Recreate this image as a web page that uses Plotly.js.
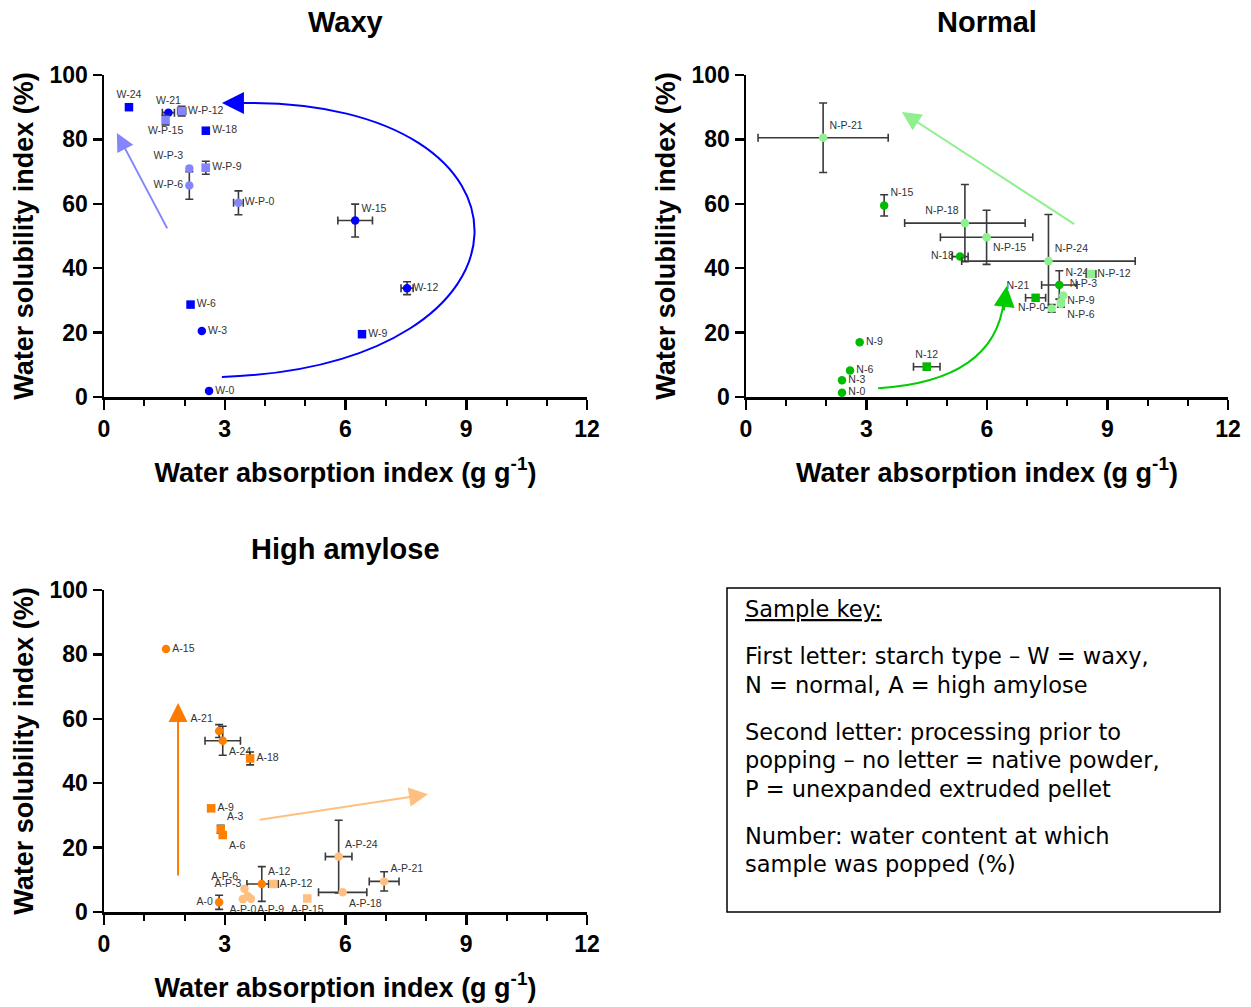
<!DOCTYPE html>
<html><head><meta charset="utf-8">
<script src="https://cdn.plot.ly/plotly-3.0.1.min.js"></script>
<style>html,body{margin:0;padding:0;background:#fff}</style>
</head><body><div id="chart" style="width:1251px;height:1007px"></div>
<script>
// ---------- DATA ----------
// Waxy, native powder
const waxyLabels = ['W-0','W-3','W-6','W-9','W-12','W-15','W-18','W-21','W-24'];
const waxyWAI    = [2.61, 2.43, 2.15, 6.41, 7.53, 6.24, 2.53, 1.60, 0.62];
const waxyWSI    = [1.9, 20.5, 28.7, 19.5, 33.8, 54.8, 82.7, 88.3, 90.0];
const waxyWAIerr = [null,null,null,null,0.15,0.43,null,0.15,null];
const waxyWSIerr = [null,null,null,null,2.0,5.1,null,null,null];
// Waxy, extruded pellet
const waxyPLabels = ['W-P-0','W-P-3','W-P-6','W-P-9','W-P-12','W-P-15'];
const waxyPWAI    = [3.34, 2.12, 2.12, 2.53, 1.93, 1.53];
const waxyPWSI    = [60.3, 71.0, 65.7, 71.2, 88.8, 86.0];
const waxyPWAIerr = [0.12,null,null,0.08,0.1,null];
const waxyPWSIerr = [3.7,null,4.3,2.0,1.5,1.5];
// Normal, native powder
const normLabels = ['N-0','N-3','N-6','N-9','N-12','N-15','N-18','N-21','N-24'];
const normWAI    = [2.39, 2.39, 2.59, 2.83, 4.50, 3.44, 5.33, 7.21, 7.80];
const normWSI    = [1.3, 5.2, 8.2, 17.0, 9.4, 59.5, 43.6, 30.8, 34.8];
const normWAIerr = [null,null,null,null,0.33,null,0.2,0.25,0.44];
const normWSIerr = [null,null,null,null,1.0,3.3,null,null,4.4];
// Normal, extruded pellet
const normPLabels = ['N-P-0','N-P-3','N-P-6','N-P-9','N-P-12','N-P-15','N-P-18','N-P-21','N-P-24'];
const normPWAI    = [7.61, 7.90, 7.84, 7.84, 8.59, 5.99, 5.45, 1.92, 7.53];
const normPWSI    = [27.5, 31.5, 28.9, 29.6, 38.2, 49.6, 54.0, 80.5, 42.2];
const normPWAIerr = [null,null,null,null,0.12,1.15,1.5,1.62,2.16];
const normPWSIerr = [1.2,null,1.0,null,null,8.4,12.0,10.8,14.5];
// High amylose, native powder
const amyLabels = ['A-0','A-3','A-6','A-9','A-12','A-15','A-18','A-21','A-24'];
const amyWAI    = [2.86, 2.90, 2.95, 2.66, 3.92, 1.54, 3.63, 2.86, 2.95];
const amyWSI    = [3.0, 25.7, 23.9, 32.2, 8.7, 81.7, 47.7, 56.2, 53.2];
const amyWAIerr = [null,null,null,0.08,0.37,null,null,null,0.44];
const amyWSIerr = [2.2,1.2,null,null,5.4,null,2.0,2.0,4.5];
// High amylose, extruded pellet
const amyPLabels = ['A-P-0','A-P-3','A-P-6','A-P-9','A-P-12','A-P-15','A-P-18','A-P-21','A-P-24'];
const amyPWAI    = [3.45, 3.57, 3.49, 3.65, 4.21, 5.05, 5.93, 6.96, 5.83];
const amyPWSI    = [4.0, 5.0, 7.2, 4.1, 8.7, 4.2, 6.1, 9.5, 17.2];
const amyPWAIerr = [null,null,null,null,0.12,null,0.6,0.37,0.33];
const amyPWSIerr = [null,null,null,null,null,null,null,3.0,11.3];

// Axis ticks
const xTickVals = [0,3,6,9,12];
const yTickVals = [0,20,40,60,80,100];

// ---------- STYLE (marker shapes / label placement) ----------
const waxySym  = ['circle','circle','square','square','circle','circle','square','circle','square'];
const waxyPos  = ['middle right','middle right','middle right','middle right','middle right','top right','middle right','top center','top center'];
const waxyPSym = ['circle','circle','circle','square','square','square'];
const waxyPPos = ['middle right','top left','middle left','middle right','middle right','bottom center'];
const normSym  = ['circle','circle','circle','circle','square','circle','circle','square','circle'];
const normPos  = ['middle right','middle right','middle right','middle right','top center','top right','middle left','top left','top right'];
const normPSym = ['circle','circle','circle','circle','square','circle','circle','circle','circle'];
const normPPos = ['middle left','top right','bottom right','middle right','middle right','bottom right','top left','top right','top right'];
const amySym   = ['circle','square','square','square','circle','circle','square','circle','circle'];
const amyPos   = ['middle left','top right','bottom right','middle right','top right','middle right','middle right','top left','bottom right'];
const amyPSym  = ['circle','circle','circle','circle','square','square','circle','circle','circle'];
const amyPPos  = ['bottom center','top left','top left','bottom right','middle right','bottom center','bottom right','top right','top right'];

const nn = a => a.map(v => (v === null ? NaN : v));
const EB_COLOR = '#3a3a3a';
function series(labels, x, y, ex, ey, color, sym, pos, xa, ya) {
  return {
    type: 'scatter', mode: 'markers+text',
    x: x, y: y, text: labels, textposition: pos,
    textfont: {family: 'Liberation Sans, Arial, sans-serif', size: 10.5, color: '#333'},
    marker: {color: color, size: 8.5, symbol: sym, line: {width: 0}},
    error_x: {type: 'data', array: nn(ex), visible: true, color: EB_COLOR, thickness: 1.6, width: 4},
    error_y: {type: 'data', array: nn(ey), visible: true, color: EB_COLOR, thickness: 1.6, width: 4},
    xaxis: xa, yaxis: ya, cliponaxis: false, showlegend: false, hoverinfo: 'text'
  };
}

const data = [
  series(waxyLabels, waxyWAI, waxyWSI, waxyWAIerr, waxyWSIerr, '#0000ff', waxySym, waxyPos, 'x', 'y'),
  series(waxyPLabels, waxyPWAI, waxyPWSI, waxyPWAIerr, waxyPWSIerr, '#8585ff', waxyPSym, waxyPPos, 'x', 'y'),
  series(normLabels, normWAI, normWSI, normWAIerr, normWSIerr, '#00bb00', normSym, normPos, 'x2', 'y2'),
  series(normPLabels, normPWAI, normPWSI, normPWAIerr, normPWSIerr, '#8ff08f', normPSym, normPPos, 'x2', 'y2'),
  series(amyLabels, amyWAI, amyWSI, amyWAIerr, amyWSIerr, '#ff8000', amySym, amyPos, 'x3', 'y3'),
  series(amyPLabels, amyPWAI, amyPWSI, amyPWAIerr, amyPWSIerr, '#ffbf80', amyPSym, amyPPos, 'x3', 'y3')
];

const W = 1251, H = 1007;
const px = v => v / W, py = v => 1 - v / H;
const AX_FONT = {family: 'Liberation Sans, Arial, sans-serif', size: 23, color: '#000', weight: 'bold'};
const TITLE_FONT = {family: 'Liberation Sans, Arial, sans-serif', size: 27, color: '#000', weight: 'bold'};

function xAxis(domain, anchor) {
  return {
    domain: domain, anchor: anchor, range: [0, 12], tickvals: xTickVals, ticktext: xTickVals.map(String),
    showline: true, linecolor: '#000', linewidth: 2.5, mirror: false, showgrid: false, zeroline: false,
    ticks: 'outside', ticklen: 10, tickwidth: 2.5, tickcolor: '#000', tickfont: AX_FONT,
    minor: {dtick: 1, tick0: 0, ticks: 'outside', ticklen: 6, tickwidth: 2, tickcolor: '#000', showgrid: false},
    title: {text: 'Water absorption index (g g<sup>-1</sup>)', font: TITLE_FONT, standoff: 22},
    fixedrange: true
  };
}
function yAxis(domain, anchor) {
  return {
    domain: domain, anchor: anchor, range: [0, 100], tickvals: yTickVals, ticktext: yTickVals.map(String),
    showline: true, linecolor: '#000', linewidth: 2.5, showgrid: false, zeroline: false,
    ticks: 'outside', ticklen: 9, tickwidth: 2.5, tickcolor: '#000', tickfont: AX_FONT,
    title: {text: 'Water solubility index (%)', font: TITLE_FONT, standoff: 8},
    fixedrange: true
  };
}

const xdomL = [px(104), px(587)], xdomR = [px(746), px(1228)];
const ydomT = [py(397), py(75)], ydomB = [py(912), py(590)];

const annFont = {family: 'DejaVu Sans, Verdana, sans-serif', size: 22.5, color: '#000'};
const keyLines = [
  ['<span style="text-decoration:underline">Sample key:</span>', 609],
  ['First letter: starch type \u2013 W = waxy,', 656],
  ['N = normal, A = high amylose', 685],
  ['Second letter: processing prior to', 732],
  ['popping \u2013 no letter = native powder,', 760],
  ['P = unexpanded extruded pellet', 789],
  ['Number: water content at which', 836],
  ['sample was popped (%)', 864]
];

function arrow(xr, yr, x, y, ax, ay, color, w, size, dataTail) {
  const a = {xref: xr, yref: yr, x: x, y: y, ax: ax, ay: ay, text: '', showarrow: true,
    arrowhead: 2, arrowsize: size, arrowwidth: w, arrowcolor: color, standoff: 0, startstandoff: 0};
  if (dataTail) { a.axref = xr; a.ayref = yr; }
  return a;
}

const TFONT = {family: 'Liberation Sans, Arial, sans-serif', size: 29, color: '#000'};
const annotations = [
  {text: '<b>Waxy</b>', xref: 'paper', yref: 'paper', x: px(345.5), y: py(22), xanchor: 'center', yanchor: 'middle', showarrow: false, font: TFONT},
  {text: '<b>Normal</b>', xref: 'paper', yref: 'paper', x: px(987), y: py(22), xanchor: 'center', yanchor: 'middle', showarrow: false, font: TFONT},
  {text: '<b>High amylose</b>', xref: 'paper', yref: 'paper', x: px(345.5), y: py(549), xanchor: 'center', yanchor: 'middle', showarrow: false, font: TFONT},
  // Waxy arrows
  arrow('x', 'y', 2.93, 91.3, 28, 0, '#0000ff', 2, 2.2, false),
  arrow('x', 'y', 0.32, 82.0, 1.59, 51.9, '#8585ff', 2, 1.8, true),
  // Normal arrows
  arrow('x2', 'y2', 6.49, 34.5, -3, 26, '#00cc00', 2, 2.1, false),
  arrow('x2', 'y2', 3.88, 88.5, 8.21, 53.4, '#8ff08f', 2, 1.9, true),
  // High amylose arrows
  arrow('x3', 'y3', 1.84, 64.9, 1.84, 10.9, '#ff7a00', 2, 1.9, true),
  arrow('x3', 'y3', 8.05, 36.6, 3.83, 28.6, '#ffbf80', 2, 1.9, true)
];
keyLines.forEach(([t, yy]) => annotations.push({
  text: t, xref: 'paper', yref: 'paper', x: px(743), y: py(yy), xanchor: 'left', yanchor: 'middle',
  showarrow: false, font: annFont, align: 'left'
}));

const shapes = [
  {type: 'path', xref: 'x', yref: 'y', path: 'M 2.93,6.2 C 11.2,10 11.2,92 3.5,91.3', line: {color: '#0000ff', width: 2}},
  {type: 'path', xref: 'x2', yref: 'y2', path: 'M 3.29,2.7 Q 6.2,5 6.42,30', line: {color: '#00cc00', width: 2}},
  {type: 'rect', xref: 'paper', yref: 'paper', x0: px(727), x1: px(1220), y0: py(912), y1: py(588), line: {color: '#000', width: 1.5}, fillcolor: 'rgba(0,0,0,0)'}
];

const layout = {
  width: W, height: H, margin: {l: 0, r: 0, t: 0, b: 0},
  paper_bgcolor: '#fff', plot_bgcolor: '#fff', showlegend: false,
  xaxis: xAxis(xdomL, 'y'), yaxis: yAxis(ydomT, 'x'),
  xaxis2: xAxis(xdomR, 'y2'), yaxis2: yAxis(ydomT, 'x2'),
  xaxis3: xAxis(xdomL, 'y3'), yaxis3: yAxis(ydomB, 'x3'),
  annotations: annotations, shapes: shapes
};

Plotly.newPlot('chart', data, layout, {displayModeBar: false, staticPlot: true});
</script></body></html>
